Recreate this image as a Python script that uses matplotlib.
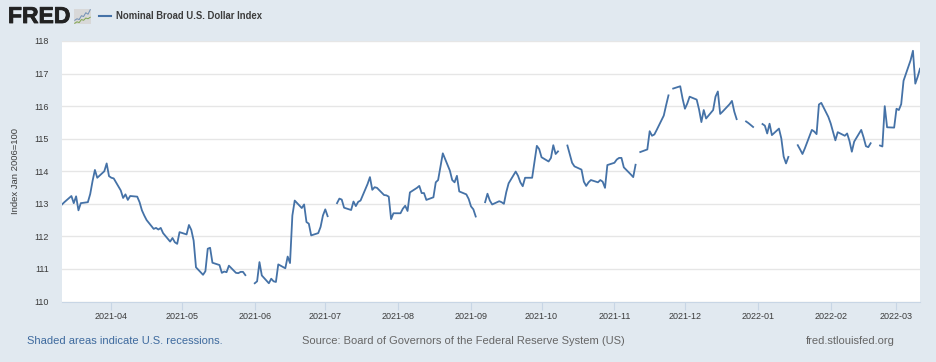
import matplotlib
matplotlib.use('Agg')
import matplotlib.pyplot as plt
import matplotlib.dates as mdates
import matplotlib.patheffects as pe
import numpy as np
import pandas as pd

plt.rcParams['font.family'] = ['Liberation Sans', 'DejaVu Sans']

nan = np.nan
start_date = '2021-03-11'
end_date = '2022-03-11'
# one value per weekday, nan on market holidays
values = [
    112.98, 113.05,
    113.24, 113.02, 113.23, 112.80, 113.02,
    113.05, 113.30, 113.70, 114.04, 113.80,
    114.00, 114.24, 113.85, 113.80, 113.78,
    113.41, 113.18, 113.29, 113.12, 113.24,
    113.22, 113.05, 112.80, 112.64, 112.50,
    112.23, 112.26, 112.21, 112.26, 112.10,
    111.84, 111.95, 111.82, 111.77, 112.13,
    112.06, 112.35, 112.20, 111.87, 111.05,
    110.82, 110.93, 111.62, 111.65, 111.19,
    111.12, 110.88, 110.92, 110.90, 111.10,
    110.88, 110.87, 110.91, 110.91, 110.81,
    nan, 110.56, 110.62, 111.21, 110.80,
    110.56, 110.70, 110.62, 110.60, 111.14,
    111.02, 111.38, 111.18, 112.64, 113.10,
    112.87, 112.98, 112.44, 112.39, 112.03,
    112.10, 112.29, 112.64, 112.83, 112.62,
    nan, 113.02, 113.16, 113.13, 112.88,
    112.81, 113.07, 112.93, 113.06, 113.10,
    113.61, 113.82, 113.43, 113.51, 113.49,
    113.27, 113.26, 113.22, 112.53, 112.71,
    112.71, 112.85, 112.94, 112.78, 113.35,
    113.49, 113.55, 113.33, 113.33, 113.12,
    113.20, 113.66, 113.73, 114.14, 114.55,
    114.02, 113.73, 113.66, 113.86, 113.38,
    113.29, 113.15, 112.92, 112.83, 112.61,
    nan, 113.05, 113.31, 113.10, 112.98,
    113.08, 113.05, 113.00, 113.36, 113.63,
    113.99, 113.86, 113.66, 113.54, 113.80,
    113.80, 114.28, 114.78, 114.68, 114.43,
    114.30, 114.41, 114.80, 114.53, 114.61,
    nan, 114.79, 114.53, 114.26, 114.15,
    114.05, 113.68, 113.55, 113.66, 113.73,
    113.66, 113.73, 113.68, 113.49, 114.19,
    114.26, 114.36, 114.41, 114.41, 114.12,
    113.90, 113.82, 114.20, nan, 114.59,
    114.67, 115.23, 115.09, 115.13, 115.27,
    115.71, 116.03, 116.33, nan, 116.54,
    116.61, 116.23, 115.92, 116.08, 116.29,
    116.20, 115.90, 115.51, 115.88, 115.62,
    115.88, 116.29, 116.45, 115.76, 115.83,
    116.06, 116.16, 115.83, 115.60, nan,
    115.53, 115.48, 115.42, 115.36, nan,
    115.45, 115.40, 115.16, 115.46, 115.11,
    115.31, 115.01, 114.45, 114.24, 114.44,
    nan, 114.80, 114.67, 114.53, 114.70,
    115.27, 115.22, 115.14, 116.05, 116.10,
    115.67, 115.47, 115.21, 114.95, 115.20,
    115.09, 115.16, 114.93, 114.60, 114.91,
    115.27, 115.04, 114.77, 114.74, 114.86,
    nan, 114.79, 114.76, 116.00, 115.35,
    115.34, 115.92, 115.88, 116.06, 116.78,
    117.41, 117.70, 116.69, 116.90, 117.15,
]
dates = pd.bdate_range(start_date, end_date)

# small logo chart
logo_blue = [3, 4, 3.5, 6, 5.5, 8, 7, 10]
logo_green = [1, 2, 1.5, 3.5, 3, 4.5, 4, 5]

BG = '#e1e9f0'
LINE = '#4572a7'
GREY = '#3c3c3c'

fig = plt.figure(figsize=(9.36, 3.62), dpi=100, facecolor=BG)
W, H = 936, 362
ax = fig.add_axes([62/W, 1-301.5/H, 858/W, 260.5/H])
ax.plot(dates, values, color=LINE, lw=1.3, solid_joinstyle='round')
ax.set_xlim(pd.Timestamp(start_date), pd.Timestamp(end_date))
ax.set_ylim(110, 118)
ax.set_yticks(range(110, 119))
ax.grid(axis='y', color='#e6e6e6', lw=1)
ax.set_axisbelow(True)
ax.xaxis.set_major_locator(mdates.MonthLocator())
ax.xaxis.set_major_formatter(mdates.DateFormatter('%Y-%m'))
ax.tick_params(axis='y', length=0, pad=9.5, labelsize=6.5, labelcolor=GREY)
ax.tick_params(axis='x', length=6, width=0.8, color='#c8d6e5', pad=1.5, labelsize=6.5, labelcolor=GREY)
for s in ['top', 'right', 'left']:
    ax.spines[s].set_visible(False)
ax.spines['bottom'].set_color('#c8d6e5')
ax.set_ylabel('Index Jan 2006=100', fontsize=6.8, color=GREY, va='center')
ax.yaxis.set_label_coords((16-62)/858, 0.5)

# header
fig.text(8/W, 1-16.5/H, 'FRED', fontsize=16.5, fontweight='bold', color='#222222', va='center',
         path_effects=[pe.withStroke(linewidth=0.6, foreground='#222222')])
logo = fig.add_axes([74/W, 1-24/H, 17/W, 15/H])
logo.set_facecolor('#d8d8d8')
logo.plot(logo_blue, color='#6f8fb5', lw=0.7)
logo.plot(logo_green, color='#7fa650', lw=0.7)
logo.set_xticks([])
logo.set_yticks([])
for s in logo.spines.values():
    s.set_visible(False)
fig.add_artist(plt.Line2D([99/W, 111/W], [1-16/H, 1-16/H], color=LINE, lw=1.5))
fig.text(116/W, 1-16/H, 'Nominal Broad U.S. Dollar Index', fontsize=6.85, fontweight='bold',
         color=GREY, va='center')

# footer
fig.text(27/W, 1-341/H, 'Shaded areas indicate U.S. recessions.', fontsize=8.05, color='#3e6a9e', va='center')
fig.text(302/W, 1-341/H, 'Source: Board of Governors of the Federal Reserve System (US)', fontsize=8.05,
         color='#666666', va='center')
fig.text(895/W, 1-341/H, 'fred.stlouisfed.org', fontsize=8.05, color='#666666', va='center', ha='right')

fig.savefig('out.png', dpi=100, facecolor=BG)
